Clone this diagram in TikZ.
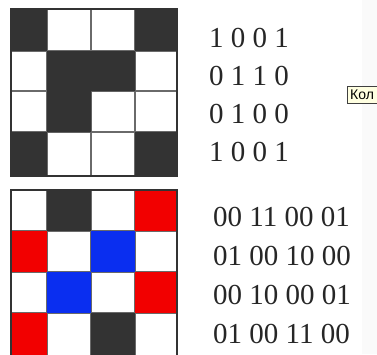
\documentclass[tikz,border=0pt]{standalone}
\usepackage{fontspec}
\setmainfont{Liberation Serif}
\newfontfamily\tipfont{Liberation Sans}
\definecolor{cdark}{HTML}{333333}
\definecolor{cred}{HTML}{F20000}
\definecolor{cblue}{HTML}{0A2EF0}
\definecolor{cline}{HTML}{6A6A6A}
\definecolor{ctip}{HTML}{FFFFE1}
\begin{document}
\begin{tikzpicture}[x=1pt,y=-1pt,
  dk/.style={fill=cdark},
  rd/.style={fill=cred},
  bl/.style={fill=cblue},
  gridline/.style={draw=cline,line width=1.6pt},
  frame/.style={draw=cdark,line width=2pt},
  code/.style={anchor=base west,inner sep=0pt,font=\fontsize{29}{34}\selectfont,text=black!85}]
\useasboundingbox (0,0) rectangle (377,354);
\fill[white] (0,0) rectangle (377,354);
\fill[gray!4] (362,0) rectangle (377,354);
% top grid
\foreach \x in {47,91,135} \draw[gridline] (\x,9) -- (\x,176);
\foreach \y in {51,91,132} \draw[gridline] (11,\y) -- (177,\y);
\fill[dk] (11,9) rectangle (47,51);
\fill[dk] (135,9) rectangle (177,51);
\fill[dk] (47,51) -- (135,51) -- (135,91) -- (91,91) -- (91,132) -- (47,132) -- cycle;
\fill[dk] (11,132) rectangle (47,176);
\fill[dk] (135,132) rectangle (177,176);
\draw[frame] (11,9) rectangle (177,176);
% bottom grid
\foreach \x in {47,91,135} \draw[gridline] (\x,190) -- (\x,356);
\foreach \y in {231,272,313} \draw[gridline] (11,\y) -- (177,\y);
\fill[dk] (47,190) rectangle (91,231);
\fill[rd] (135,190) rectangle (177,231);
\fill[rd] (11,231) rectangle (47,272);
\fill[bl] (91,231) rectangle (135,272);
\fill[bl] (47,272) rectangle (91,313);
\fill[rd] (135,272) rectangle (177,313);
\fill[rd] (11,313) rectangle (47,356);
\fill[dk] (91,313) rectangle (135,356);
\draw[frame] (11,356) -- (11,190) -- (177,190) -- (177,356);
% codes
\node[code] (t1) at (209,47) {1 0 0 1};
\node[code] (t2) at (209,85) {0 1 1 0};
\node[code] (t3) at (209,123) {0 1 0 0};
\node[code] (t4) at (209,161) {1 0 0 1};
\node[code] (b1) at (213,226) {00 11 00 01};
\node[code] (b2) at (213,265) {01 00 10 00};
\node[code] (b3) at (213,304) {00 10 00 01};
\node[code] (b4) at (213,343) {01 00 11 00};
% tooltip
\begin{scope}
\clip (0,0) rectangle (377,354);
\draw[fill=ctip,draw=black!75,line width=0.9pt] (347,86) rectangle (392,103);
\node[anchor=base west,inner sep=0pt,font=\tipfont\fontsize{14}{16}\selectfont] (tip) at (350,99.5) {Кол};
\end{scope}
\end{tikzpicture}
\end{document}
